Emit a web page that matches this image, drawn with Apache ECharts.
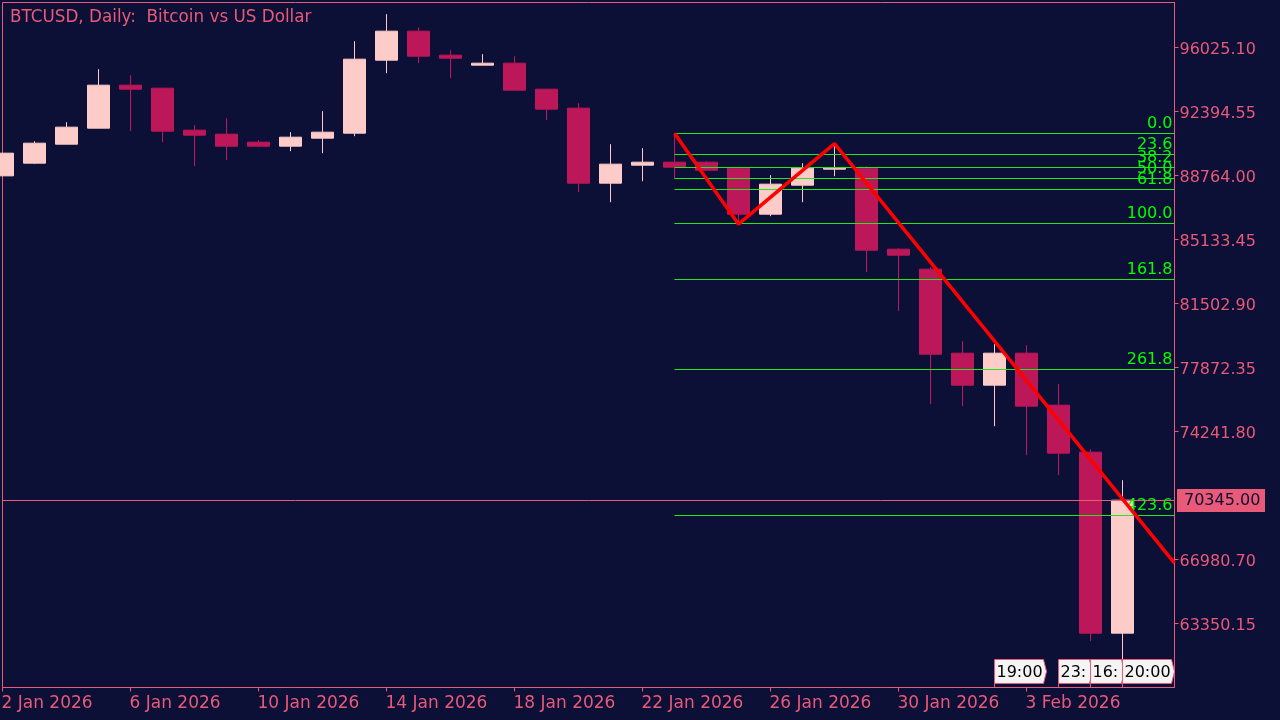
<!DOCTYPE html>
<html lang="en">
<head>
    <meta charset="UTF-8">
    <title>BTCUSD Daily</title>
    <script src="https://cdn.jsdelivr.net/npm/echarts@6/dist/echarts.min.js"></script>
</head>
<style>
    html, body { margin:0; padding:0; background:#0c0f36; }
    #main { width:1280px; height:720px; }
</style>
<body>
<div id="main"></div>
<script>
    var dates = ['2 Jan 2026','3 Jan 2026','4 Jan 2026','5 Jan 2026','6 Jan 2026','7 Jan 2026','8 Jan 2026','9 Jan 2026','10 Jan 2026',
        '11 Jan 2026','12 Jan 2026','13 Jan 2026','14 Jan 2026','15 Jan 2026','16 Jan 2026','17 Jan 2026','18 Jan 2026','19 Jan 2026',
        '20 Jan 2026','21 Jan 2026','22 Jan 2026','23 Jan 2026','24 Jan 2026','25 Jan 2026','26 Jan 2026','27 Jan 2026','28 Jan 2026',
        '29 Jan 2026','30 Jan 2026','31 Jan 2026','1 Feb 2026','2 Feb 2026','3 Feb 2026','4 Feb 2026','5 Feb 2026','6 Feb 2026'];
    var opens = [88743,89464,90541,91449,93888,93718,91335,91109,90655,
        90428,90882,91165,95306,96951,95590,95023,95136,93661,
        92584,88329,89350,89520,89520,89180,86570,88215,89123,
        89180,84585,83450,78685,76870,78685,75736,73070,62802];
    var closes = [90031,90598,91506,93888,93661,91279,91052,90428,90428,
        90938,91222,95363,96951,95533,95420,95136,93605,92527,
        88329,89407,89520,89237,89066,86570,88272,89180,89180,
        84528,84245,78629,76870,78685,75679,73013,62802,70345];
    var lows = [88743,89424,90541,91449,91279,90655,89293,89634,90371,
        90144,90031,90995,94569,95136,94285,95023,93605,91903,
        87818,87251,88442,88556,89066,86003,86457,87251,88726,
        83280,81068,75792,75679,74544,72899,71765,62348,61327];
    var highs = [90031,90711,91789,94796,94455,93718,91619,92016,90768,
        91222,92413,96384,97915,97178,95874,95647,95533,93661,
        92867,90541,90314,91165,89577,89180,88783,89464,90570,
        89293,84642,83564,79366,79196,79139,76927,73240,71481];

    var dateTicks = [0,4,8,12,16,20,24,28,32];
    // 70611.25 sits under the current price box in the terminal
    var priceTicks = [96025.10,92394.55,88764.00,85133.45,81502.90,77872.35,74241.80,66980.70,63350.15];
    var currentPrice = 70345.00;

    var fibLevels = ['0.0','23.6','38.2','50.0','61.8','100.0','161.8','261.8','423.6'];
    var fibPrices = [91137,89946,89208,88584,87960,86031,82855,77749,69467];

    var zigzagIndex = [21,23,26,36.625];
    var zigzagPrice = [91165,86003,90570,66773];

    var timeIndex = [31,33,34,35];
    var timeText = ['19:00','23:','16:','20:00'];

    var pink = '#e85a78';
    var priceMin = 59719.6;
    var indexMax = 36.625;

    var candleData = dates.map(function (d, i) {
        return [i, opens[i], closes[i], lows[i], highs[i]];
    });

    var option = {
        backgroundColor: '#0c0f36',
        animation: false,
        title: {
            text: 'BTCUSD, Daily:  Bitcoin vs US Dollar',
            left: 10, top: 9, padding: 0,
            textStyle: { color: pink, fontFamily: 'DejaVu Sans', fontSize: 16.8, fontWeight: 'normal' }
        },
        grid: {
            left: 2.5, top: 2.5, right: 105.5, bottom: 32.5, outerBoundsMode: 'none',
            show: true, borderColor: pink, borderWidth: 1, backgroundColor: 'transparent'
        },
        xAxis: {
            type: 'value', min: 0, max: indexMax,
            splitLine: { show: false },
            axisLine: { show: true, lineStyle: { color: pink } },
            axisTick: { show: true, length: 4, lineStyle: { color: pink }, customValues: dateTicks },
            axisLabel: {
                color: pink, fontFamily: 'DejaVu Sans', fontSize: 17, align: 'left', margin: 8, padding: [0, 0, 0, -1],
                customValues: dateTicks,
                formatter: function (v) { return dates[v]; }
            }
        },
        yAxis: {
            type: 'value', position: 'right',
            min: priceMin,
            max: 98578,
            splitLine: { show: false },
            axisLine: { show: true, onZero: false, lineStyle: { color: pink } },
            axisTick: { show: true, length: 4, lineStyle: { color: pink }, customValues: priceTicks },
            axisLabel: {
                margin: 5,
                customValues: priceTicks,
                formatter: function (v) { return '{p|' + v.toFixed(2) + '}'; },
                rich: { p: { color: pink, fontFamily: 'DejaVu Sans', fontSize: 16, padding: [4, 0, 0, 0] } }
            }
        },
        series: [
            {
                type: 'candlestick',
                name: 'BTCUSD',
                barWidth: 23,
                data: candleData,
                itemStyle: {
                    color: '#fdccc8', color0: '#bc1758',
                    borderColor: '#fdccc8', borderColor0: '#bc1758', borderWidth: 1, borderJoin: 'miter'
                },
                markLine: {
                    silent: true, symbol: 'none', animation: false, z: 3,
                    lineStyle: { color: pink, type: 'solid', width: 1 },
                    label: { show: false },
                    data: [{ yAxis: currentPrice }]
                }
            },
            {
                type: 'line',
                name: 'Fibo',
                data: [],
                markLine: {
                    silent: true, symbol: 'none', animation: false, z: 4,
                    lineStyle: { color: '#1fe81f', type: 'solid', width: 1 },
                    label: {
                        position: 'insideEndTop', distance: 2,
                        color: '#00ff00', fontFamily: 'DejaVu Sans', fontSize: 16,
                        formatter: function (p) { return p.name; }
                    },
                    data: fibLevels.map(function (name, i) {
                        return [{ name: name, coord: [21, fibPrices[i]] }, { coord: [indexMax, fibPrices[i]] }];
                    })
                }
            },
            {
                type: 'line',
                name: 'ZigZag',
                z: 6,
                symbol: 'none',
                lineStyle: { color: '#ff0000', width: 3.5 },
                data: zigzagIndex.map(function (x, i) { return [x, zigzagPrice[i]]; })
            },
            {
                type: 'custom',
                name: 'Time',
                z: 7,
                clip: false,
                encode: { x: 0 },
                data: timeIndex.map(function (x, i) { return [x, i]; }),
                renderItem: function (params, api) {
                    var p = api.coord([api.value(0), priceMin]);
                    var x = Math.floor(p[0]) + 0.5, b = Math.floor(p[1]) + 0.5;
                    var label = timeText[api.value(1)];
                    var w = label.length > 3 ? 49 : 31;
                    var top = b - 28, bot = b - 4;
                    return {
                        type: 'group',
                        children: [
                            { type: 'line', shape: { x1: x, y1: bot, x2: x, y2: b }, style: { stroke: pink, lineWidth: 1 } },
                            {
                                type: 'polygon',
                                shape: { points: [[x, top], [x + w, top], [x + w + 3, (top + bot) / 2], [x + w, bot], [x, bot]] },
                                style: { fill: '#f4f4f4', stroke: pink, lineWidth: 1 }
                            },
                            {
                                type: 'text', x: x + 2, y: (top + bot) / 2 + 1,
                                style: { text: label, fill: '#000000', font: '16px "DejaVu Sans"', verticalAlign: 'middle' }
                            }
                        ]
                    };
                }
            },
            {
                type: 'custom',
                name: 'Price',
                z: 7,
                clip: false,
                encode: { x: 0, y: 1 },
                data: [[indexMax, currentPrice]],
                renderItem: function (params, api) {
                    var p = api.coord([api.value(0), api.value(1)]);
                    var x = Math.floor(p[0]) + 3, y = Math.floor(p[1]);
                    return {
                        type: 'group',
                        children: [
                            { type: 'rect', shape: { x: x, y: y - 11, width: 88, height: 23 }, style: { fill: pink } },
                            {
                                type: 'text', x: x + 7, y: y + 1,
                                style: {
                                    text: api.value(1).toFixed(2), fill: '#0c0f36',
                                    font: '16px "DejaVu Sans"', verticalAlign: 'middle'
                                }
                            }
                        ]
                    };
                }
            }
        ]
    };

    var myChart = echarts.init(document.getElementById('main'));
    myChart.setOption(option);
</script>
</body>
</html>
